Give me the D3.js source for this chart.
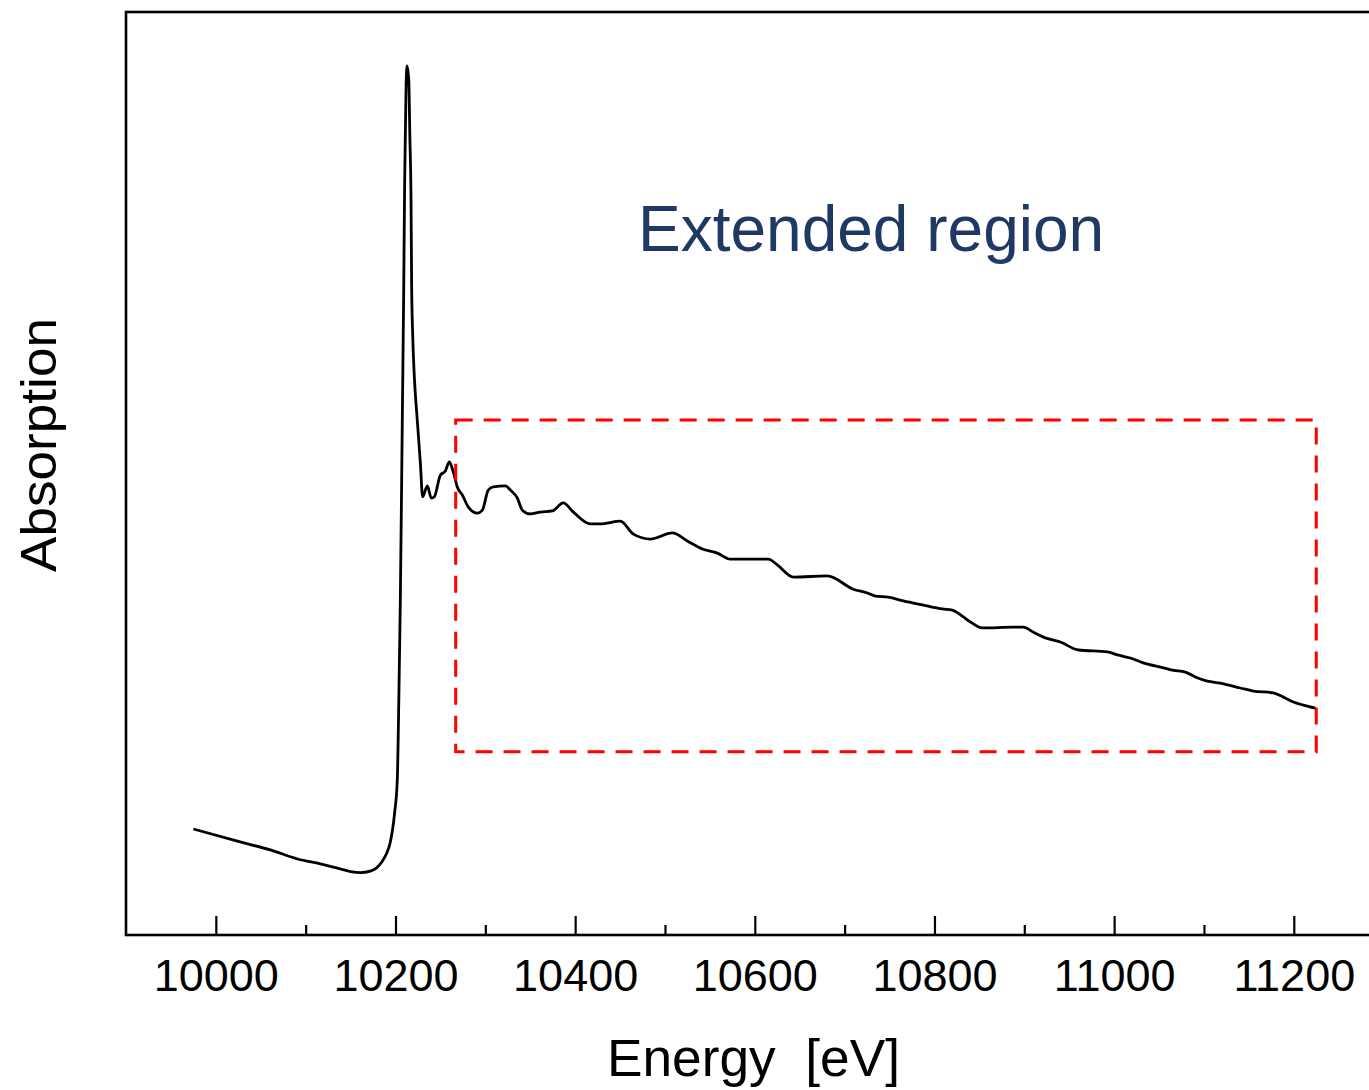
<!DOCTYPE html>
<html>
<head>
<meta charset="utf-8">
<script src="https://cdn.jsdelivr.net/npm/d3@7"></script>
<style>
  body { margin: 0; background: #fff; }
  svg { display: block; font-family: "Liberation Sans", Arial, sans-serif; }
</style>
</head>
<body>
<div id="chart-ctn"></div>
<script>
// XAS spectrum (energy in eV, normalised absorption)
const energy = [
  9975, 10027, 10060.7, 10091, 10116.3, 10138.6, 10150, 10160.9, 10172, 10178.7, 10183.1,
  10186, 10189.8, 10194, 10199, 10202, 10203.7, 10205.4,
  10207.6, 10209.1, 10210.2, 10211.7, 10212.8, 10214.8, 10216.0, 10217.3, 10218.0,
  10219.1, 10221.0, 10224.0, 10227.7, 10230.2, 10235.4, 10239.9, 10243.2, 10249.9,
  10255.5, 10259.9, 10264.4, 10268.8, 10274.4, 10281.1, 10291.1, 10296.7, 10303.3,
  10308.9, 10322.3, 10327.8, 10335.6, 10341.2, 10350.1, 10361.2, 10374.6, 10386.8,
  10398.0, 10416.9, 10428.0, 10450.3, 10464.8, 10483.7, 10508.2, 10524.9, 10541.6,
  10558.3, 10572.8, 10615.1, 10625.1, 10642.9, 10680.7, 10709.7, 10725.3, 10734.2,
  10748.6, 10765.3, 10787.6, 10808.8, 10819.9, 10831.0, 10839.9, 10853.3, 10887.8,
  10898.9, 10910.1, 10923.4, 10940.1, 10960.2, 10992.4, 11003.6, 11018.0, 11032.5,
  11054.8, 11064.8, 11079.3, 11090.4, 11103.8, 11118.2, 11140.5, 11155.0, 11177.2,
  11188.4, 11199.5, 11210.6, 11224.0
];
const absorption = [
  0.108, 0.074, 0.053, 0.029, 0.016, 0.003, -0.004, -0.007, -0.003, 0.005, 0.016,
  0.026, 0.042, 0.071, 0.150, 0.237, 0.447, 0.711,
  1.189, 1.513, 1.808, 2.053, 2.116, 2.079, 1.929, 1.763, 1.534,
  1.413, 1.297, 1.192, 1.071, 0.982, 1.011, 0.979, 0.982, 1.039,
  1.050, 1.074, 1.047, 1.008, 0.987, 0.955, 0.939, 0.947, 1.000,
  1.008, 1.011, 1.000, 0.979, 0.947, 0.937, 0.942, 0.945, 0.966,
  0.942, 0.911, 0.911, 0.918, 0.884, 0.871, 0.887, 0.866, 0.845,
  0.834, 0.818, 0.818, 0.803, 0.771, 0.774, 0.739, 0.729, 0.721,
  0.718, 0.708, 0.697, 0.687, 0.684, 0.668, 0.653, 0.637, 0.639,
  0.639, 0.626, 0.611, 0.600, 0.579, 0.574, 0.566, 0.558, 0.545,
  0.532, 0.526, 0.521, 0.508, 0.497, 0.492, 0.479, 0.471, 0.466,
  0.455, 0.442, 0.434, 0.426
];
const majorTicks = [10000, 10200, 10400, 10600, 10800, 11000, 11200];
const minorTicks = [10100, 10300, 10500, 10700, 10900, 11100];
// extended region box, in data units: [E start, E end], [A low, A high]
const regionEnergy = [10267, 11225];
const regionAbs = [0.311, 1.184];

let width = 1369;
let height = 1090;
let margin = { top: 12, left: 126, bottom: 935 };

let svg = d3.select("#chart-ctn")
    .append("svg")
    .attr("width", width)
    .attr("height", height);

let x = d3.scaleLinear().domain([9900, 11300]).range([margin.left, margin.left + 1400 * 0.8983]);
let y = d3.scaleLinear().domain([-0.171, 2.258]).range([margin.bottom, margin.top]);

// frame (right side falls outside the picture)
svg.append("rect")
    .attr("x", x(9900))
    .attr("y", y(2.258))
    .attr("width", x(11300) - x(9900))
    .attr("height", y(-0.171) - y(2.258))
    .attr("fill", "none")
    .attr("stroke", "#000")
    .attr("stroke-width", 2.6);

// major ticks with labels
let xAxis = svg.append("g")
    .attr("transform", `translate(0,${margin.bottom})`)
    .call(d3.axisBottom(x).tickValues(majorTicks).tickSizeInner(-19).tickSizeOuter(0).tickFormat(d3.format("d")));
xAxis.select(".domain").remove();
xAxis.selectAll(".tick line").attr("stroke", "#000").attr("stroke-width", 2.2);
xAxis.selectAll(".tick text")
    .attr("y", 56)
    .attr("dy", 0)
    .attr("fill", "#000")
    .style("font-size", "45px")
    .style("font-family", "'Liberation Sans', Arial, sans-serif");

// minor ticks
let xMinor = svg.append("g")
    .attr("transform", `translate(0,${margin.bottom})`)
    .call(d3.axisBottom(x).tickValues(minorTicks).tickSizeInner(-10).tickSizeOuter(0).tickFormat(""));
xMinor.select(".domain").remove();
xMinor.selectAll(".tick line").attr("stroke", "#000").attr("stroke-width", 2.2);

// spectrum
let pts = energy.map((e, i) => ({ e: e, a: absorption[i] }));
svg.append("path")
    .datum(pts)
    .attr("fill", "none")
    .attr("stroke", "#000")
    .attr("stroke-width", 2.8)
    .attr("stroke-linejoin", "round")
    .attr("d", d3.line().curve(d3.curveMonotoneX).x((d) => x(d.e)).y((d) => y(d.a)));

// dashed box around the extended region
svg.append("rect")
    .attr("x", x(regionEnergy[0]))
    .attr("y", y(regionAbs[1]))
    .attr("width", x(regionEnergy[1]) - x(regionEnergy[0]))
    .attr("height", y(regionAbs[0]) - y(regionAbs[1]))
    .attr("fill", "none")
    .attr("stroke", "#ff0000")
    .attr("stroke-width", 3)
    .attr("stroke-dasharray", "17,11");

svg.append("text")
    .attr("x", 638)
    .attr("y", 251)
    .attr("fill", "#1f3864")
    .style("font-size", "64px")
    .text("Extended region");

// axis titles
svg.append("text")
    .attr("x", 607)
    .attr("y", 1076)
    .attr("fill", "#000")
    .style("font-size", "51px")
    .attr("xml:space", "preserve")
    .attr("textLength", 293)
    .attr("lengthAdjust", "spacingAndGlyphs")
    .text("Energy  [eV]");

svg.append("text")
    .attr("transform", "translate(56,445) rotate(-90)")
    .attr("text-anchor", "middle")
    .attr("fill", "#000")
    .style("font-size", "50px")
    .attr("textLength", 254)
    .attr("lengthAdjust", "spacingAndGlyphs")
    .text("Absorption");
</script>
</body>
</html>
